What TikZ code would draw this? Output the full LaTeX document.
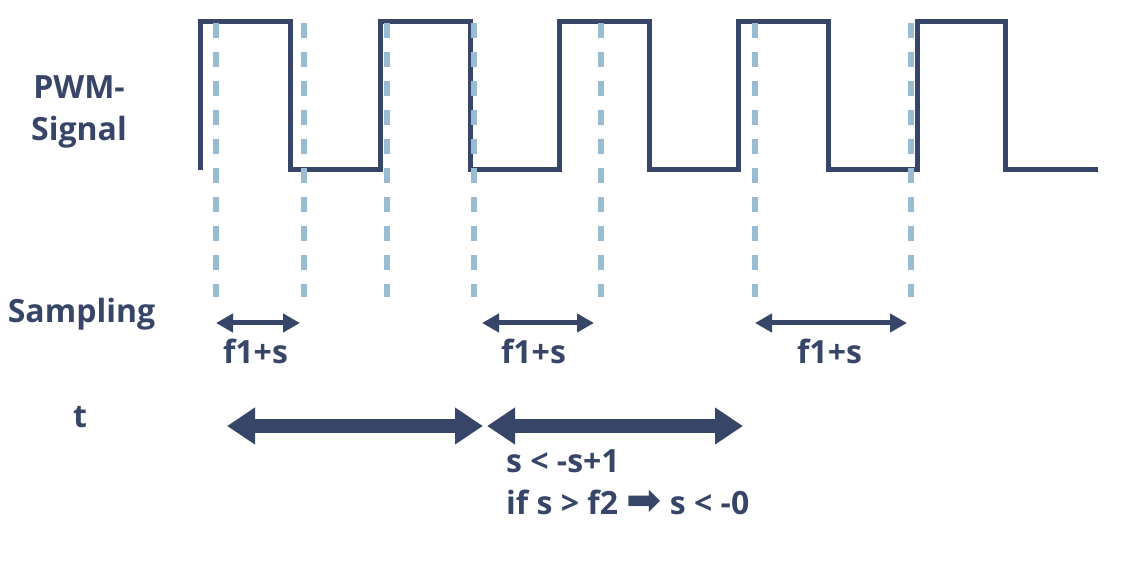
\documentclass[tikz,border=0pt]{standalone}
\usepackage{fontspec}
\setmainfont{Open Sans}
\newfontfamily\symbfont{DejaVu Sans}
\usetikzlibrary{arrows.meta}
\definecolor{marine}{RGB}{54,69,104}
\definecolor{ciel}{RGB}{152,189,211}
\tikzset{
  lbl/.style={anchor=base,text=marine,inner sep=0pt,font=\fontsize{32}{38}\selectfont\bfseries},
  signal/.style={draw=marine,line width=5pt},
  echant/.style={draw=ciel,line width=5.5pt,dash pattern=on 15pt off 14pt},
  petite/.style={draw=marine,line width=5pt,{Triangle[width=18pt,length=17pt]}-{Triangle[width=18pt,length=17pt]}},
  grande/.style={draw=marine,line width=14pt,{Triangle[width=35pt,length=28pt]}-{Triangle[width=35pt,length=28pt]}},
}
\begin{document}
\begin{tikzpicture}[x=1pt,y=-1pt]
\useasboundingbox (0,0) rectangle (1122,561);

% Etiquettes a gauche
\node[lbl] (pwm) at (79,99) {PWM-};
\node[lbl] (sig) at (79,141) {Signal};
\node[lbl] (sampling) at (81.5,323) {Sampling};
\node[lbl] (temps) at (80,427) {t};

% Signal PWM
\draw[signal] (200,170) |- (290,22) |- (380,170) |- (470,22) |- (559,170)
  |- (649,22) |- (738,170) |- (828,22) |- (917,170) |- (1005,22) |- (1098,170);

% Instants d'echantillonnage (en pointilles)
\foreach \x in {216,304,387,474,601,755,911}
  \draw[echant] (\x,23) -- (\x,297);

% Fenetres f1+s
\coordinate (a1) at (216,323);
\coordinate (b1) at (300,323);
\coordinate (a2) at (482,323);
\coordinate (b2) at (594,323);
\coordinate (a3) at (755,323);
\coordinate (b3) at (907,323);
\draw[petite] (a1) -- (b1);
\draw[petite] (a2) -- (b2);
\draw[petite] (a3) -- (b3);
\node[lbl] (f1) at (255.5,363) {f1+s};
\node[lbl] (f2) at (533.5,363) {f1+s};
\node[lbl] (f3) at (829.5,363) {f1+s};

% Axe t
\coordinate (t0) at (227,426);
\coordinate (t1) at (483,426);
\coordinate (t2) at (487,426);
\coordinate (t3) at (743,426);
\draw[grande] (t0) -- (t1);
\draw[grande] (t2) -- (t3);

\node[lbl,anchor=base west] (regle1) at (506,472) {s < -s+1};
\node[lbl,anchor=base west] (regle2) at (506,514) {if s > f2 {\symbfont\fontsize{42}{42}\selectfont ➡} s < -0};

\end{tikzpicture}
\end{document}
